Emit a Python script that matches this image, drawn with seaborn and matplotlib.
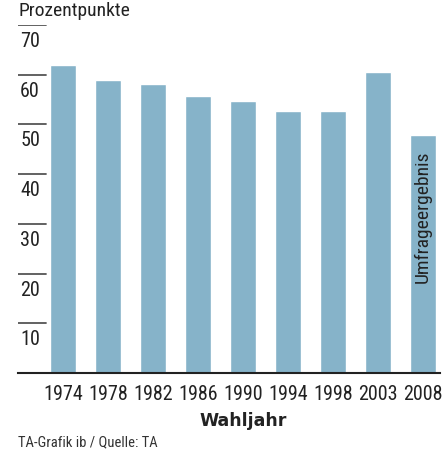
import matplotlib
matplotlib.use("Agg")
import matplotlib.pyplot as plt
import seaborn as sns
import pandas as pd

years = ["1974", "1978", "1982", "1986", "1990", "1994", "1998", "2003", "2008"]
values = [62.0, 59.0, 58.1, 55.7, 54.7, 52.7, 52.7, 60.6, 47.9]
ytick_values = [10, 20, 30, 40, 50, 60, 70]

sns.set_theme(style="white")
plt.rcParams['font.family'] = ['Roboto Condensed', 'DejaVu Sans']

W, H = 442, 449
fig = plt.figure(figsize=(W / 100, H / 100), dpi=100)
ax = fig.add_axes([18 / W, 1 - 373 / H, (440 - 18) / W, (373 - 25) / H])

df = pd.DataFrame({"year": years, "value": values})
sns.barplot(data=df, x="year", y="value", color="#86b3c9", width=0.58,
            saturation=1, ax=ax)

ax.set_xlim(-1, 8.38)
ax.set_ylim(0, 70)
for s in ["top", "right", "left"]:
    ax.spines[s].set_visible(False)
ax.spines["bottom"].set_color("#222222")
ax.spines["bottom"].set_linewidth(1.5)
ax.set_yticks([])
ax.set_xlabel("")
ax.set_ylabel("")
ax.tick_params(axis="x", length=0, pad=9, labelsize=14.5, labelcolor="#222222")

for v in ytick_values:
    ax.axhline(v, xmin=0, xmax=28 / 422, color="#555555", lw=1.3)
    ax.text(-0.95, v - 1.4, str(v), ha="left", va="top", fontsize=14.5,
            color="#222222")

fig.text(18 / W, 1 - 2 / H, "Prozentpunkte", ha="left", va="top",
         fontsize=14, color="#222222")
fig.text(243 / W, 1 - 421 / H, "Wahljahr", ha="center", va="center",
         fontsize=12.5, fontweight="bold", family=["DejaVu Sans"], color="#222222")
fig.text(18 / W, 1 - 442 / H, "TA-Grafik ib / Quelle: TA", ha="left",
         va="center", fontsize=10.5, color="#333333")

ax.text(8, 31.5, "Umfrageergebnis", rotation=90, ha="center", va="center",
        fontsize=14, color="#222222")

fig.savefig("out.png", dpi=100)
